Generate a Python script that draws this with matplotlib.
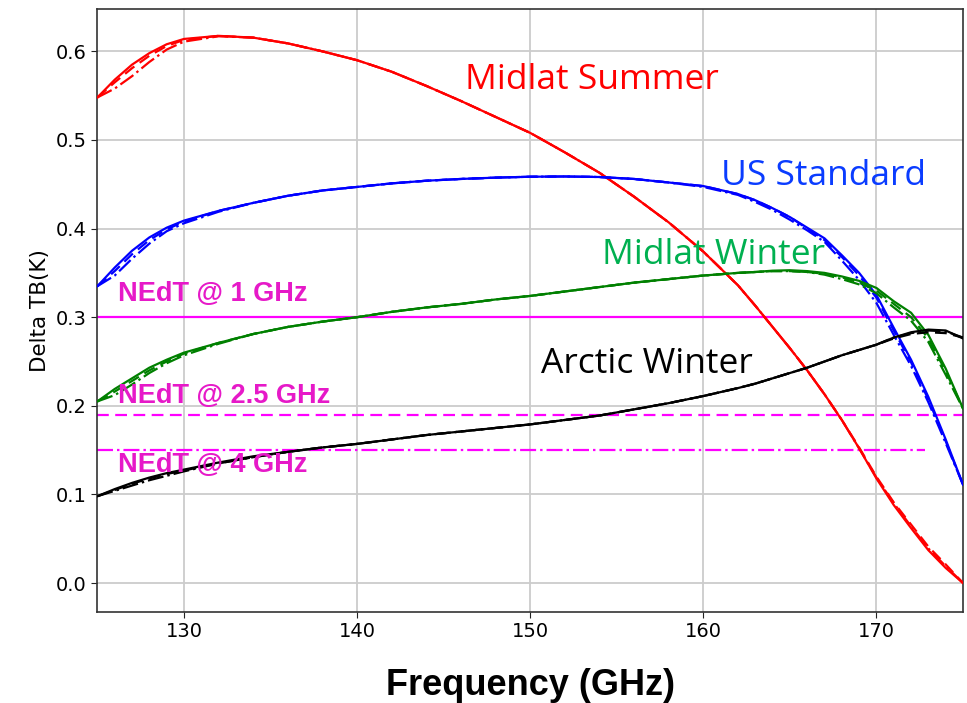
import matplotlib
matplotlib.use("Agg")
import matplotlib.pyplot as plt

# ---------------- data ----------------
freq = [125, 126, 127, 128, 129, 130, 132, 134, 136, 138, 140, 142, 144, 146, 148,
        150, 152, 154, 156, 158, 160, 162, 163, 164, 165, 166, 167, 168, 169, 170,
        171, 172, 173, 174, 175]

summer_solid = [0.548, 0.568, 0.585, 0.598, 0.608, 0.614, 0.6175, 0.6155, 0.609, 0.600,
                0.590, 0.577, 0.561, 0.544, 0.526, 0.508, 0.486, 0.463, 0.436, 0.407,
                0.374, 0.336, 0.313, 0.289, 0.265, 0.240, 0.213, 0.184, 0.152, 0.118,
                0.088, 0.062, 0.037, 0.017, 0.000]
summer_dash = [0.548, 0.565, 0.581, 0.595, 0.606, 0.613, 0.6175, 0.6155, 0.609, 0.600,
               0.590, 0.577, 0.561, 0.544, 0.526, 0.508, 0.486, 0.463, 0.436, 0.407,
               0.374, 0.336, 0.313, 0.289, 0.265, 0.240, 0.213, 0.184, 0.153, 0.120,
               0.091, 0.066, 0.041, 0.021, 0.000]
summer_dashdot = [0.548, 0.558, 0.572, 0.588, 0.602, 0.611, 0.617, 0.6155, 0.609, 0.600,
                  0.590, 0.577, 0.561, 0.544, 0.526, 0.508, 0.486, 0.463, 0.436, 0.407,
                  0.374, 0.336, 0.313, 0.289, 0.265, 0.240, 0.213, 0.184, 0.152, 0.119,
                  0.090, 0.064, 0.039, 0.019, 0.000]

us_solid = [0.335, 0.356, 0.375, 0.390, 0.401, 0.409, 0.420, 0.429, 0.437, 0.443,
            0.447, 0.451, 0.454, 0.456, 0.4575, 0.4585, 0.4588, 0.4582, 0.456, 0.452,
            0.448, 0.439, 0.432, 0.423, 0.413, 0.401, 0.389, 0.370, 0.350, 0.325,
            0.288, 0.252, 0.210, 0.162, 0.111]
us_dash = [0.335, 0.352, 0.371, 0.387, 0.399, 0.408, 0.420, 0.429, 0.437, 0.443,
           0.447, 0.451, 0.454, 0.456, 0.4575, 0.4585, 0.4588, 0.4582, 0.456, 0.452,
           0.448, 0.439, 0.432, 0.423, 0.413, 0.400, 0.387, 0.368, 0.347, 0.322,
           0.285, 0.249, 0.207, 0.160, 0.111]
us_dashdot = [0.335, 0.347, 0.366, 0.383, 0.397, 0.406, 0.419, 0.429, 0.437, 0.443,
              0.447, 0.451, 0.454, 0.456, 0.4575, 0.4585, 0.4588, 0.4582, 0.456, 0.452,
              0.447, 0.438, 0.430, 0.421, 0.410, 0.398, 0.385, 0.364, 0.342, 0.316,
              0.280, 0.245, 0.204, 0.158, 0.111]

winter_solid = [0.205, 0.219, 0.231, 0.243, 0.252, 0.260, 0.271, 0.281, 0.289, 0.295,
                0.300, 0.306, 0.311, 0.315, 0.320, 0.324, 0.329, 0.334, 0.339, 0.343,
                0.347, 0.350, 0.351, 0.3525, 0.353, 0.352, 0.350, 0.346, 0.341, 0.333,
                0.318, 0.305, 0.280, 0.242, 0.197]
winter_dash = [0.205, 0.216, 0.228, 0.240, 0.250, 0.259, 0.271, 0.281, 0.289, 0.295,
               0.300, 0.306, 0.311, 0.315, 0.320, 0.324, 0.329, 0.334, 0.339, 0.343,
               0.347, 0.350, 0.351, 0.352, 0.352, 0.351, 0.349, 0.345, 0.339, 0.330,
               0.315, 0.300, 0.276, 0.239, 0.197]
winter_dashdot = [0.205, 0.212, 0.224, 0.237, 0.248, 0.257, 0.270, 0.281, 0.289, 0.295,
                  0.300, 0.306, 0.311, 0.315, 0.320, 0.324, 0.329, 0.334, 0.339, 0.343,
                  0.347, 0.350, 0.351, 0.352, 0.352, 0.351, 0.348, 0.343, 0.337, 0.327,
                  0.311, 0.296, 0.272, 0.235, 0.197]

arctic_solid = [0.098, 0.106, 0.113, 0.119, 0.124, 0.128, 0.136, 0.143, 0.148, 0.153,
                0.157, 0.162, 0.167, 0.171, 0.175, 0.179, 0.184, 0.189, 0.196, 0.203,
                0.211, 0.220, 0.225, 0.231, 0.237, 0.243, 0.250, 0.257, 0.263, 0.269,
                0.277, 0.283, 0.286, 0.285, 0.276]
arctic_dash = [0.098, 0.105, 0.112, 0.118, 0.123, 0.127, 0.135, 0.142, 0.148, 0.153,
               0.157, 0.162, 0.167, 0.171, 0.175, 0.179, 0.184, 0.189, 0.196, 0.203,
               0.211, 0.220, 0.225, 0.231, 0.237, 0.243, 0.250, 0.257, 0.263, 0.269,
               0.276, 0.281, 0.283, 0.282, 0.277]
arctic_dashdot = [0.098, 0.104, 0.110, 0.116, 0.121, 0.126, 0.135, 0.142, 0.148, 0.153,
                  0.157, 0.162, 0.167, 0.171, 0.175, 0.179, 0.184, 0.189, 0.196, 0.203,
                  0.211, 0.220, 0.225, 0.231, 0.237, 0.243, 0.250, 0.257, 0.263, 0.269,
                  0.277, 0.282, 0.285, 0.284, 0.277]

nedt_levels = [0.30, 0.19, 0.15]
nedt_xmax = [175, 175, 172.8]
nedt_labels = ["NEdT @ 1 GHz", "NEdT @ 2.5 GHz", "NEdT @ 4 GHz"]

x_ticks = [130, 140, 150, 160, 170]
y_ticks = [0.0, 0.1, 0.2, 0.3, 0.4, 0.5, 0.6]

# ---------------- plot ----------------
fig = plt.figure(figsize=(9.67, 7.03), dpi=100)
ax = fig.add_axes([97.4 / 967, 1 - 612 / 703, (963 - 97.4) / 967, (612 - 9) / 703])

DASH = (0, (5.3, 2.9))
DASHDOT = (0, (7.2, 1.8, 1.1, 1.8))
MAG = '#FF00FF'

ax.hlines(nedt_levels[0], 125, nedt_xmax[0], colors=MAG, lw=1.6, linestyles='solid', zorder=2)
ax.hlines(nedt_levels[1], 125, nedt_xmax[1], colors=MAG, lw=1.6, linestyles=[DASH], zorder=2)
ax.hlines(nedt_levels[2], 125, nedt_xmax[2], colors=MAG, lw=1.6, linestyles=[DASHDOT], zorder=2)

series = [
    (summer_solid, summer_dash, summer_dashdot, '#FF0000'),
    (us_solid, us_dash, us_dashdot, '#0000FF'),
    (winter_solid, winter_dash, winter_dashdot, '#008000'),
    (arctic_solid, arctic_dash, arctic_dashdot, '#000000'),
]
for s, d, dd, c in series:
    ax.plot(freq, s, color=c, lw=1.6, ls='-', zorder=3)
    ax.plot(freq, d, color=c, lw=1.6, ls=DASH, zorder=3)
    ax.plot(freq, dd, color=c, lw=1.6, ls=DASHDOT, zorder=3)

ax.set_xlim(125, 175)
ax.set_ylim(-0.0327, 0.6478)
ax.set_xticks(x_ticks)
ax.set_yticks(y_ticks)
ax.set_yticklabels([f"{v:.1f}" for v in y_ticks])
ax.tick_params(labelsize=14, length=4, color='#222222')
ax.grid(True, color='#CCCCCC', lw=1.3)
ax.set_axisbelow(True)
for sp in ax.spines.values():
    sp.set_color('#333333')
    sp.set_linewidth(1.2)

ax.set_ylabel("Delta TB(K)", fontsize=15.5, labelpad=4)
fig.text(530 / 967, 8 / 703, "Frequency (GHz)", ha='center', va='baseline',
         fontsize=26, fontweight='bold', family='Liberation Sans')

big = dict(fontsize=25.5, family='Open Sans', va='baseline', ha='left', zorder=5)
ax.text(146.22, 0.5578, "Midlat Summer", color='#FF0000', **big)
ax.text(161.05, 0.449, "US Standard", color='#0A3CFF', **big)
ax.text(154.17, 0.3595, "Midlat Winter", color='#00B050', **big)
ax.text(150.65, 0.2365, "Arctic Winter", color='#000000', **big)

lab_y = [0.318, 0.2034, 0.125]
for ly, lt in zip(lab_y, nedt_labels):
    ax.text(126.19, ly, lt, color='#E619C8', fontsize=19.5, fontweight='bold',
            family='Liberation Sans', va='baseline', ha='left', zorder=5)

fig.savefig("out.png", dpi=100)
